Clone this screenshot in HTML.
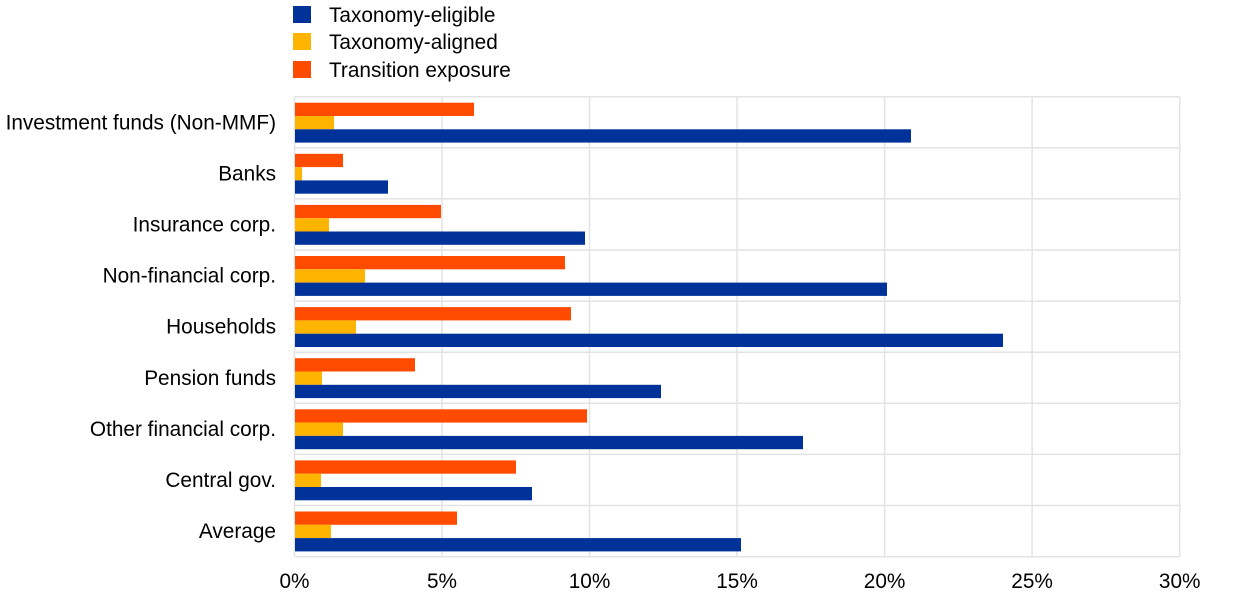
<!DOCTYPE html>
<html><head><meta charset="utf-8"><style>
html,body{margin:0;padding:0;background:#fff;}
svg{display:block;font-family:"Liberation Sans",Arial,sans-serif;}
</style></head><body>
<svg width="1240" height="602" viewBox="0 0 1240 602" xmlns="http://www.w3.org/2000/svg">
<rect width="1240" height="602" fill="#fff"/>
<!-- legend -->
<rect x="293" y="6" width="18" height="17" fill="#003299"/>
<rect x="293" y="33" width="18" height="17" fill="#FFB400"/>
<rect x="293" y="61" width="18" height="17" fill="#FF4B00"/>
<g font-size="20.8" fill="#000">
<text x="329" y="22">Taxonomy-eligible</text>
<text x="329" y="49">Taxonomy-aligned</text>
<text x="329" y="77">Transition exposure</text>
</g>
<!-- grid -->
<g stroke="#e3e3e3" stroke-width="1.5" fill="none">
<line x1="294.5" y1="96.7" x2="1179.7" y2="96.7"/>
<line x1="294.5" y1="147.8" x2="1179.7" y2="147.8"/>
<line x1="294.5" y1="198.9" x2="1179.7" y2="198.9"/>
<line x1="294.5" y1="250" x2="1179.7" y2="250"/>
<line x1="294.5" y1="301.1" x2="1179.7" y2="301.1"/>
<line x1="294.5" y1="352.2" x2="1179.7" y2="352.2"/>
<line x1="294.5" y1="403.3" x2="1179.7" y2="403.3"/>
<line x1="294.5" y1="454.4" x2="1179.7" y2="454.4"/>
<line x1="294.5" y1="505.5" x2="1179.7" y2="505.5"/>
<line x1="294.5" y1="556.7" x2="1179.7" y2="556.7"/>
<line x1="294.5" y1="96.7" x2="294.5" y2="556.7"/>
<line x1="442" y1="96.7" x2="442" y2="556.7"/>
<line x1="589.5" y1="96.7" x2="589.5" y2="556.7"/>
<line x1="737" y1="96.7" x2="737" y2="556.7"/>
<line x1="884.6" y1="96.7" x2="884.6" y2="556.7"/>
<line x1="1032.1" y1="96.7" x2="1032.1" y2="556.7"/>
<line x1="1179.7" y1="96.7" x2="1179.7" y2="556.7"/>
</g>
<!-- bars -->
<g>
<rect x="295" y="102.7" width="179" height="13.3" fill="#FF4B00"/><rect x="295" y="116" width="39" height="13.3" fill="#FFB400"/><rect x="295" y="129.3" width="616" height="13.3" fill="#003299"/>
<rect x="295" y="153.8" width="48" height="13.3" fill="#FF4B00"/><rect x="295" y="167.1" width="7" height="13.3" fill="#FFB400"/><rect x="295" y="180.4" width="93" height="13.3" fill="#003299"/>
<rect x="295" y="204.9" width="146" height="13.3" fill="#FF4B00"/><rect x="295" y="218.2" width="34" height="13.3" fill="#FFB400"/><rect x="295" y="231.5" width="290" height="13.3" fill="#003299"/>
<rect x="295" y="256" width="270" height="13.3" fill="#FF4B00"/><rect x="295" y="269.3" width="70" height="13.3" fill="#FFB400"/><rect x="295" y="282.6" width="592" height="13.3" fill="#003299"/>
<rect x="295" y="307.1" width="276" height="13.3" fill="#FF4B00"/><rect x="295" y="320.4" width="61" height="13.3" fill="#FFB400"/><rect x="295" y="333.7" width="708" height="13.3" fill="#003299"/>
<rect x="295" y="358.2" width="120" height="13.3" fill="#FF4B00"/><rect x="295" y="371.5" width="27" height="13.3" fill="#FFB400"/><rect x="295" y="384.8" width="366" height="13.3" fill="#003299"/>
<rect x="295" y="409.3" width="292" height="13.3" fill="#FF4B00"/><rect x="295" y="422.6" width="48" height="13.3" fill="#FFB400"/><rect x="295" y="435.9" width="508" height="13.3" fill="#003299"/>
<rect x="295" y="460.4" width="221" height="13.3" fill="#FF4B00"/><rect x="295" y="473.7" width="26" height="13.3" fill="#FFB400"/><rect x="295" y="487" width="237" height="13.3" fill="#003299"/>
<rect x="295" y="511.5" width="162" height="13.3" fill="#FF4B00"/><rect x="295" y="524.8" width="36" height="13.3" fill="#FFB400"/><rect x="295" y="538.1" width="446" height="13.3" fill="#003299"/>
</g>
<!-- category labels -->
<g font-size="20.8" fill="#000" text-anchor="end">
<text x="276" y="129.5">Investment funds (Non-MMF)</text>
<text x="276" y="180.5">Banks</text>
<text x="276" y="231.5">Insurance corp.</text>
<text x="276" y="282.5">Non-financial corp.</text>
<text x="276" y="333.5">Households</text>
<text x="276" y="385">Pension funds</text>
<text x="276" y="436">Other financial corp.</text>
<text x="276" y="487">Central gov.</text>
<text x="276" y="538">Average</text>
</g>
<!-- tick labels -->
<g font-size="20.8" fill="#000" text-anchor="middle">
<text x="294.5" y="588">0%</text>
<text x="442" y="588">5%</text>
<text x="589.5" y="588">10%</text>
<text x="737" y="588">15%</text>
<text x="884.6" y="588">20%</text>
<text x="1032.1" y="588">25%</text>
<text x="1179.7" y="588">30%</text>
</g>
</svg>
</body></html>
